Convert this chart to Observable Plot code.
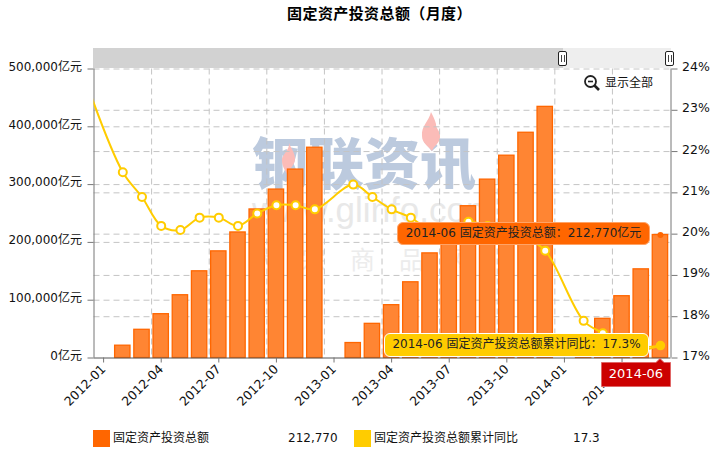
<!DOCTYPE html>
<html><head><meta charset="utf-8">
<script src="https://cdn.jsdelivr.net/npm/d3@7"></script>
<script src="https://cdn.jsdelivr.net/npm/@observablehq/plot@0.6"></script>
<style>
html,body{margin:0;padding:0;background:#fff;}
#wrap{position:relative;width:725px;height:458px;overflow:hidden;font-family:"DejaVu Sans","Noto Sans CJK SC",sans-serif;font-size:12px;color:#111;}
#wrap svg{display:block}
.abs{position:absolute;white-space:nowrap;}
#title{position:absolute;left:0;top:3px;width:759px;text-align:center;font-weight:bold;font-size:15px;line-height:20px;letter-spacing:.4px;color:#000;font-family:"Noto Sans CJK SC",sans-serif;}
#chart{position:absolute;left:0;top:30px;}
.tip{position:absolute;box-sizing:border-box;border-radius:6px;line-height:20px;color:#222;white-space:nowrap;text-align:center;}
.handle{position:absolute;box-sizing:border-box;width:9px;height:15px;top:51px;background:#fff;border:1px solid #222;border-radius:2px;}
.handle:after{content:"";position:absolute;left:2px;top:3px;width:1px;height:7px;border-left:1px solid #444;border-right:1px solid #444;padding-left:1px;}
</style></head>
<body>
<div id="wrap">
  <!-- watermark sits under the transparent chart -->
  <div class="abs" style="left:252px;top:132px;font-size:56px;line-height:56px;font-weight:900;color:#bccade;font-family:'Noto Sans CJK SC'">钢联资讯</div>
  <div class="abs" style="left:252px;top:192px;font-size:35px;line-height:36px;color:#e8e8e8;font-family:'Liberation Sans'">www.glinfo.com</div>
  <div class="abs" style="left:252px;top:240px;font-size:25px;line-height:36px;letter-spacing:24px;color:#ececec;font-family:'Noto Sans CJK SC'">大宗商品网</div>
  <svg class="abs" style="left:0;top:0" width="725" height="300"><g fill="#fbbcb8"><path d="M431 112c-2 9-10 14-9 24 0 7 6 10 10 15 2-6 9-8 8-16-1-6-4-6-4-11-1-4-3-8-5-12z"/><path d="M289 143c1 7-8 12-7 18 0 5 3 9 5 13 2-5 8-9 8-15 0-7-4-10-6-16z"/></g></svg>

  <div id="title">固定资产投资总额（月度）</div>

  <!-- range selector strip -->
  <div class="abs" style="left:93px;top:48px;width:578px;height:20px;background:#eeeeee"></div>
  <div class="abs" style="left:93px;top:48px;width:470px;height:20px;background:#d2d2d2"></div>

  <div id="chart"></div>

  <div class="handle" style="left:558px"></div>
  <div class="handle" style="left:665px"></div>

  <svg class="abs" style="left:583px;top:74px" width="18" height="18"><circle cx="7.5" cy="7.5" r="5.5" fill="#fff" stroke="#222" stroke-width="1.8"/><path d="M5 7.5h5" stroke="#222" stroke-width="1.6"/><path d="M11.5 11.5l4.5 4.5" stroke="#222" stroke-width="2.6"/></svg>
  <div class="abs" style="left:605px;top:74px;line-height:18px">显示全部</div>

  <div class="tip" style="left:397px;top:222px;width:253px;height:23px;background:#ff6600;border:1px solid #ffa366;line-height:21px;">2014-06 固定资产投资总额：212,770亿元</div>
  <div class="tip" style="left:384px;top:333px;width:265px;height:24px;background:#ffcc00;border:1.5px solid #fff;line-height:21px;">2014-06 固定资产投资总额累计同比：17.3%</div>
  <svg class="abs" style="left:601px;top:358px" width="70" height="29"><path d="M0.5 4.5H55L59 .5L63 4.5H69.5V28.5H0.5Z" fill="#cc0000" stroke="#e06666"/></svg>
  <div class="abs" style="left:601px;top:362px;width:70px;height:24px;line-height:24px;text-align:center;color:#fff;font-size:13px">2014-06</div>

  <div class="abs" style="left:93px;top:430px;width:17px;height:17px;background:#ff6600"></div>
  <div class="abs" style="left:113px;top:428px;line-height:20px">固定资产投资总额</div>
  <div class="abs" style="left:288px;top:428px;line-height:20px">212,770</div>
  <div class="abs" style="left:354px;top:430px;width:17px;height:17px;background:#ffcc00"></div>
  <div class="abs" style="left:374px;top:428px;line-height:20px">固定资产投资总额累计同比</div>
  <div class="abs" style="left:573px;top:428px;line-height:20px">17.3</div>
</div>
<script>
const months = ["2012-01","2012-02","2012-03","2012-04","2012-05","2012-06","2012-07","2012-08","2012-09","2012-10","2012-11","2012-12",
  "2013-01","2013-02","2013-03","2013-04","2013-05","2013-06","2013-07","2013-08","2013-09","2013-10","2013-11","2013-12",
  "2014-01","2014-02","2014-03","2014-04","2014-05","2014-06"];
const investment = [null,21300,48800,75800,108600,150000,184500,217200,257000,291400,326000,363800,
  null,25900,59100,91400,131000,181000,214000,262600,308600,350000,389700,434500,
  null,36000,67800,106900,153400,212770];
const growth = [null,21.5,20.9,20.2,20.1,20.4,20.4,20.2,20.5,20.7,20.7,20.6,
  null,21.2,20.9,20.6,20.4,20.1,20.1,20.3,20.2,20.1,19.9,19.6,
  null,17.9,17.6,17.3,17.2,17.3];
const priorGrowth = 23.8; // 2011-12, off the left edge of the visible window
const leftTicks = [0,100000,200000,300000,400000,500000];
const rightTicks = [17,18,19,20,21,22,23,24];
const xTickMonths = ["2012-01","2012-04","2012-07","2012-10","2013-01","2013-04","2013-07","2013-10","2014-01","2014-04"];

const pct = p => (p - 17) / 7 * 500000;          // secondary axis onto the primary scale
const idx = m => months.indexOf(m);
const bars = months.map((m,i)=>({i,v:investment[i]})).filter(d=>d.v!=null);
const linePts = [{i:-1,g:priorGrowth},...months.map((m,i)=>({i,g:growth[i]})).filter(d=>d.g!=null)];
const markerPts = linePts.filter(d=>d.i>=0 && d.i<29);
const xTicks = xTickMonths.map(idx);
const font = '"DejaVu Sans","Noto Sans CJK SC",sans-serif';
const dash = {stroke:"#c4c4c4",strokeDasharray:"6,4",strokeWidth:1};
const last = months.length-1;

const chart = Plot.plot({
  width:725, height:390,
  marginLeft:93.5, marginRight:54.5, marginTop:38.5, marginBottom:62.5,
  style:{background:"transparent",fontFamily:font,fontSize:"12px",color:"#111",overflow:"visible"},
  x:{type:"linear",domain:[-0.5,29.55],axis:null},
  y:{domain:[0,500000],axis:null},
  marks:[
    Plot.ruleY(leftTicks.slice(1),dash),
    Plot.ruleY(rightTicks.slice(1,-1).map(pct),dash),
    Plot.ruleX(xTicks.map(i=>i-0.5).filter(v=>v>0),dash),
    Plot.rect(bars,{x1:d=>d.i-0.4,x2:d=>d.i+0.4,y1:0,y2:"v",fill:"#ff8533",stroke:"#ff6600",strokeWidth:1.3}),
    Plot.ruleX([-0.5],{stroke:"#777"}),
    Plot.ruleX([29.55],{stroke:"#777"}),
    Plot.ruleY([0],{stroke:"#555"}),
    Plot.axisY({anchor:"left",ticks:leftTicks,tickSize:6,text:null,label:null,stroke:"#777"}),
    Plot.axisY({anchor:"left",ticks:leftTicks,tickSize:0,tickPadding:12,dy:-2,tickFormat:d=>d3.format(",")(d)+"亿元",label:null,fill:"#111"}),
    Plot.axisY({anchor:"right",ticks:rightTicks.map(pct),tickSize:6,text:null,label:null,stroke:"#777"}),
    Plot.axisY({anchor:"right",ticks:rightTicks.map(pct),tickSize:0,tickPadding:11,dy:-2,tickFormat:d=>Math.round(d/500000*7+17)+"%",label:null,fill:"#111",fontSize:12.5}),
    Plot.axisX({anchor:"bottom",ticks:xTicks,tickSize:5,text:null,label:null,stroke:"#777"}),
    Plot.axisX({anchor:"bottom",ticks:xTicks,tickSize:0,tickPadding:9,tickRotate:-45,tickFormat:i=>months[i],label:null,fill:"#111",fontSize:12.5}),
    Plot.line(linePts,{x:"i",y:d=>pct(d.g),stroke:"#ffcc00",strokeWidth:2,curve:"catmull-rom",clip:true}),
    Plot.dot(markerPts,{x:"i",y:d=>pct(d.g),r:4,fill:"#fff",stroke:"#ffcc00",strokeWidth:2}),
    Plot.link([{i:last,g:growth[last]}],{x1:d=>d.i-0.6,x2:"i",y1:d=>pct(d.g-0.03),y2:d=>pct(d.g),stroke:"#ffcc00",strokeWidth:1.5}),
    Plot.dot([{i:last,g:growth[last]}],{x:"i",y:d=>pct(d.g),r:4,fill:"#ffcc00",stroke:"#ffcc00"}),
    Plot.dot([{i:last,v:investment[last]}],{x:"i",y:"v",r:3,fill:"#ff6600"})
  ]
});
document.getElementById("chart").appendChild(chart);
</script>
</body></html>
